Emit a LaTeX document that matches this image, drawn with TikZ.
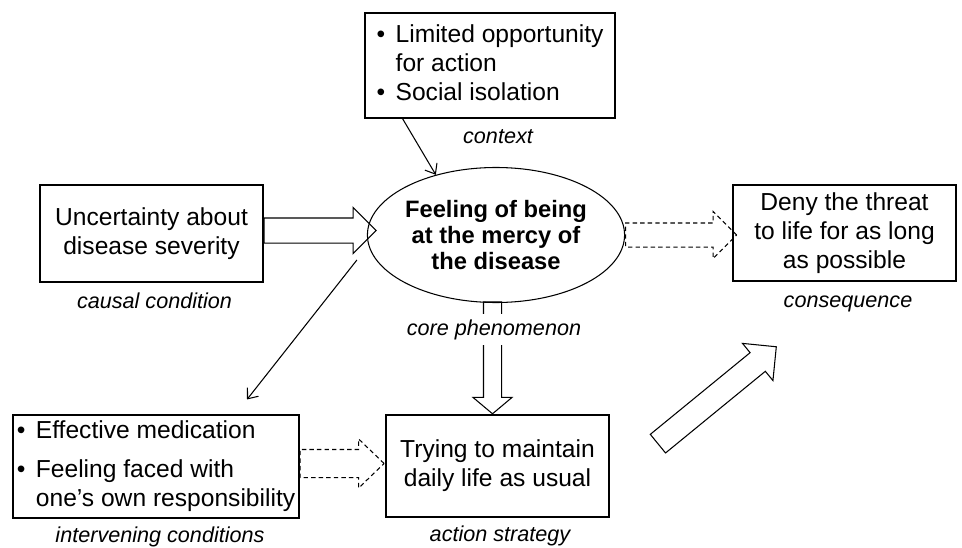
\documentclass[tikz,border=0pt]{standalone}
\usepackage{fontspec}
\setmainfont{Liberation Sans}
\usetikzlibrary{shapes,arrows.meta}
% one pixel of the layout grid
\newcommand{\pxl}{0.02cm}
\newcommand{\itembullet}{{\fontsize{14}{14}\selectfont\textbullet}}

\tikzset{
	box/.style={draw, line width=0.6pt, rectangle, inner sep=0pt, align=center, font=\fontsize{14}{16.5}\selectfont},
	phenom/.style={draw, line width=0.6pt, ellipse, inner sep=0pt, align=center, font=\fontsize{13.5}{15}\selectfont\bfseries},
	lbl/.style={font=\fontsize{12.3}{14}\selectfont\itshape, anchor=base, inner sep=0pt},
	blockarrow/.style={single arrow, draw, line width=0.6pt, inner xsep=0pt, single arrow tip angle=90},
	dashedblock/.style={blockarrow, dash pattern=on 2.5pt off 1.8pt},
	thinarrow/.style={line width=0.6pt, -{Straight Barb[length=5pt,width=8pt]}}
}

\begin{document}
\begin{tikzpicture}[x=\pxl, y=-\pxl]
	\useasboundingbox (0,0) rectangle (962,547);

	%The boxes
	\node[box, minimum width=250*\pxl, minimum height=105*\pxl] (context) at (490,65.5)
		{\begin{tabular}{@{}l@{\hspace{6pt}}l@{}}
			\itembullet & Limited opportunity\\
			 & for action\\
			\itembullet & Social isolation
		\end{tabular}};
	\node[box, minimum width=223*\pxl, minimum height=97*\pxl] (causal) at (151.5,233.5) {Uncertainty about\\disease severity};
	\node[phenom, minimum width=223*\pxl, minimum height=135*\pxl] (core) at (496,235) {Feeling of being\\at the mercy of\\the disease};
	\node[box, minimum width=223*\pxl, minimum height=96*\pxl] (conseq) at (844.5,233) {Deny the threat\\to life for as long\\as possible};
	\node[box, minimum width=286*\pxl, minimum height=103*\pxl] (interv) at (156,466.5)
		{\begin{tabular}{@{}l@{\hspace{6pt}}l@{}}
			\itembullet & Effective medication\\[5.5pt]
			\itembullet & Feeling faced with\\
			 & one’s own responsibility
		\end{tabular}};
	\node[box, minimum width=223*\pxl, minimum height=102*\pxl] (action) at (497.5,466) {Trying to maintain\\daily life as usual};

	%Block arrows (inner ysep = half shaft)
	\node[blockarrow, anchor=tail, minimum height=112*\pxl, inner ysep=12*\pxl, single arrow head extend=10.5*\pxl] (causalarr) at ([yshift=3*\pxl]causal.east) {};
	\node[dashedblock, anchor=tail, minimum height=111*\pxl, inner ysep=11.5*\pxl, single arrow head extend=11.5*\pxl] (conseqarr) at (core.east) {};
	\node[dashedblock, anchor=tail, minimum height=84*\pxl, inner ysep=13.5*\pxl, single arrow head extend=10.5*\pxl, single arrow tip angle=88] (intervarr) at ([yshift=3*\pxl]interv.east) {};
	\node[blockarrow, rotate=-90, anchor=tip, minimum height=112*\pxl, inner ysep=8.5*\pxl, single arrow head extend=10.5*\pxl, single arrow tip angle=100] (actionarr) at ([xshift=-5*\pxl]action.north) {};
	\node[blockarrow, rotate=39.3, anchor=tail, minimum height=153*\pxl, inner ysep=11.5*\pxl, single arrow head extend=12*\pxl] (outcomearr) at (657.5,444) {};

	%Thin arrows
	\path (context.south west)+(38,0) coordinate (ctxfoot);
	\draw[thinarrow] (ctxfoot) -- (core.135);
	\path (core.west)+(-10,25) coordinate (medstart);
	\path (interv.north)+(91,-15) coordinate (medtip);
	\draw[thinarrow] (medstart) -- (medtip);

	%Labels
	\path (context.south)+(8,25) node[lbl] (contextlbl) {context};
	\path (causal.south)+(3,26) node[lbl] (causallbl) {causal condition};
	\path (core.south)+(-2,32) node[lbl, fill=white, inner ysep=3pt] (corelbl) {core phenomenon};
	\path (conseq.south)+(3.5,26) node[lbl] (conseqlbl) {consequence};
	\path (interv.south)+(4,24) node[lbl] (intervlbl) {intervening conditions};
	\path (action.south)+(2.5,24) node[lbl] (actionlbl) {action strategy};
\end{tikzpicture}
\end{document}
